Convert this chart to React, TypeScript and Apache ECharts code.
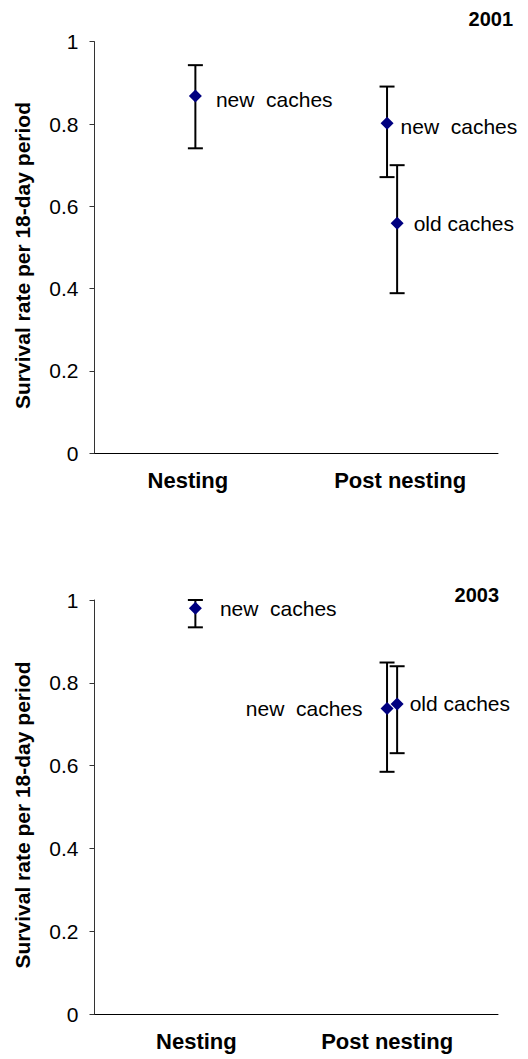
import React, { useEffect, useRef } from "react";
import * as echarts from "echarts";

// ---- data ----
const categories = ["Nesting", "Post nesting"];
const years = ["2001", "2003"];
const pointNames = ["new  caches", "new  caches", "old caches"];
const pointCategoryX = [1, 1.95, 2];

const mean2001 = [0.868, 0.802, 0.559];
const low2001 = [0.741, 0.671, 0.389];
const high2001 = [0.943, 0.891, 0.7];

const mean2003 = [0.98, 0.738, 0.749];
const low2003 = [0.934, 0.585, 0.63];
const high2003 = [1.0, 0.849, 0.84];

const yAxisTitle = "Survival rate per 18-day period";

// ---- styles ----
const FONT = "Arial, 'Liberation Sans', sans-serif";
const labelStyle2001 = [
  { position: "right", distance: 14, offset: [0, 3] },
  { position: "right", distance: 7, offset: [0, 3] },
  { position: "right", distance: 10, offset: [0, 0] },
];
const labelStyle2003 = [
  { position: "right", distance: 18, offset: [0, 0] },
  { position: "left", distance: 18, offset: [0, 0] },
  { position: "right", distance: 6, offset: [0, 0] },
];
const catPad = [
  [[0, 15, 0, 0], [0, 0, 0, 6]],
  [[0, 0, 0, 2], [0, 20, 0, 0]],
];

export default function App() {
  const ref = useRef<HTMLDivElement>(null);

  useEffect(() => {
    if (!ref.current) return;
    const chart = echarts.init(ref.current, null, { renderer: "svg" });

    const grids = [
      { left: 94.5, top: 41.7, width: 403.5, height: 411.6 },
      { left: 94.5, top: 600, width: 403.5, height: 414 },
    ];

    const xAxes: any[] = [];
    const yAxes: any[] = [];
    const series: any[] = [];
    const panels = [
      { mean: mean2001, low: low2001, high: high2001, lab: labelStyle2001 },
      { mean: mean2003, low: low2003, high: high2003, lab: labelStyle2003 },
    ];

    panels.forEach((p, g) => {
      const rich: any = {};
      categories.forEach((_, i) => {
        rich["c" + i] = {
          fontFamily: FONT,
          fontWeight: "bold",
          fontSize: 22,
          color: "#000",
          padding: catPad[g][i],
        };
      });
      xAxes.push({
        type: "category",
        gridIndex: g,
        data: categories,
        boundaryGap: true,
        axisLine: { lineStyle: { color: "#000", width: 1 } },
        axisTick: { show: false },
        axisLabel: {
          margin: 16,
          formatter: (v: string, i: number) => `{c${i}|${v}}`,
          rich,
        },
        splitLine: { show: false },
      });
      xAxes.push({
        type: "value",
        gridIndex: g,
        min: 0.5,
        max: 2.5,
        show: false,
        splitLine: { show: false },
      });
      yAxes.push({
        type: "value",
        gridIndex: g,
        min: 0,
        max: 1,
        interval: 0.2,
        name: yAxisTitle,
        nameLocation: "middle",
        nameGap: 62,
        nameTextStyle: {
          fontFamily: FONT,
          fontWeight: "bold",
          fontSize: 21,
          color: "#000",
          padding: [0, 16, 0, 0],
        },
        axisLine: { show: true, lineStyle: { color: "#333", width: 1 } },
        axisTick: { show: true, length: 5, lineStyle: { color: "#333" } },
        axisLabel: {
          margin: 16,
          fontFamily: FONT,
          fontSize: 21,
          color: "#000",
          formatter: (v: number) => String(Math.round(v * 10) / 10),
        },
        splitLine: { show: false },
      });

      const errData = p.mean.map((_, i) => [pointCategoryX[i], p.low[i], p.high[i]]);
      series.push({
        type: "custom",
        xAxisIndex: g * 2 + 1,
        yAxisIndex: g,
        z: 2,
        encode: { x: 0, y: [1, 2] },
        data: errData,
        renderItem: (params: any, api: any) => {
          const x = api.value(0);
          const top = api.coord([x, api.value(2)]);
          const bot = api.coord([x, api.value(1)]);
          const hw = 7.5;
          const st = { stroke: "#000", lineWidth: 2 };
          return {
            type: "group",
            children: [
              { type: "line", shape: { x1: top[0], y1: top[1], x2: bot[0], y2: bot[1] }, style: st },
              { type: "line", shape: { x1: top[0] - hw, y1: top[1], x2: top[0] + hw, y2: top[1] }, style: st },
              { type: "line", shape: { x1: bot[0] - hw, y1: bot[1], x2: bot[0] + hw, y2: bot[1] }, style: st },
            ],
          };
        },
      });

      series.push({
        type: "scatter",
        xAxisIndex: g * 2 + 1,
        yAxisIndex: g,
        z: 3,
        symbol: "diamond",
        symbolSize: 13,
        itemStyle: { color: "#000080", opacity: 1 },
        data: p.mean.map((m, i) => ({
          value: [pointCategoryX[i], m],
          name: pointNames[i],
          label: {
            show: true,
            position: p.lab[i].position,
            distance: p.lab[i].distance,
            offset: p.lab[i].offset,
            formatter: pointNames[i],
            fontFamily: FONT,
            fontSize: 21,
            color: "#000",
            opacity: 1,
          },
        })),
      });
    });

    chart.setOption({
      animation: false,
      backgroundColor: "#fff",
      title: [
        {
          text: years[0],
          right: 10,
          top: 4,
          textStyle: { fontFamily: FONT, fontWeight: "bold", fontSize: 20, color: "#000" },
        },
        {
          text: years[1],
          right: 24,
          top: 580,
          textStyle: { fontFamily: FONT, fontWeight: "bold", fontSize: 20, color: "#000" },
        },
      ],
      grid: grids,
      xAxis: xAxes,
      yAxis: yAxes,
      series,
    });

    return () => chart.dispose();
  }, []);

  return (
    <div
      ref={ref}
      style={{ position: "fixed", left: 0, top: 0, width: 528, height: 1059, background: "#fff" }}
    />
  );
}
